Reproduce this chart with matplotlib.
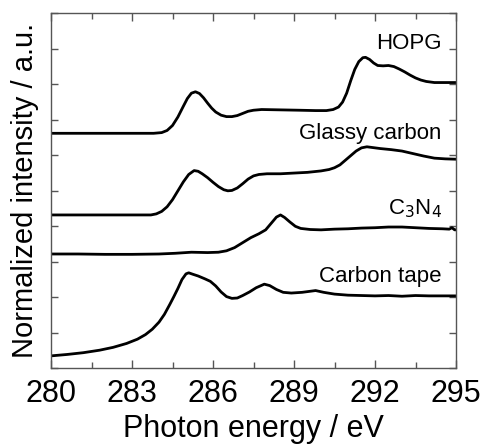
import numpy as np
import matplotlib.pyplot as plt
from matplotlib.ticker import MultipleLocator, NullFormatter

plt.rcParams['font.family'] = ['Liberation Sans', 'DejaVu Sans']

# spectra (photon energy / eV, offset intensity)
hopg_x = [280, 283.8, 284.1, 284.3, 284.5, 284.7, 284.9, 285.05, 285.2, 285.35, 285.5, 285.65,
          285.8, 285.95, 286.1, 286.3, 286.5, 286.7, 286.9, 287.1, 287.3, 287.5, 287.8, 288.5,
          289.2, 289.8, 290.2, 290.45, 290.65, 290.8, 290.95, 291.1, 291.25, 291.4, 291.55, 291.65,
          291.8, 291.95, 292.1, 292.3, 292.5, 292.7, 292.9, 293.1, 293.3, 293.5, 293.7, 293.9,
          294.2, 295]
hopg_y = [6.62, 6.62, 6.64, 6.7, 6.84, 7.08, 7.38, 7.6, 7.75, 7.79, 7.74, 7.62,
          7.47, 7.33, 7.22, 7.13, 7.09, 7.09, 7.12, 7.18, 7.24, 7.27, 7.29, 7.28,
          7.27, 7.26, 7.26, 7.29, 7.36, 7.5, 7.75, 8.1, 8.42, 8.64, 8.75, 8.76,
          8.7, 8.6, 8.53, 8.52, 8.53, 8.5, 8.43, 8.35, 8.26, 8.18, 8.12, 8.08,
          8.05, 8.05]

glassy_x = [280, 283.7, 283.9, 284.1, 284.3, 284.5, 284.7, 284.9, 285.1, 285.3, 285.45, 285.6,
            285.8, 286.0, 286.2, 286.4, 286.55, 286.7, 286.9, 287.1, 287.3, 287.5, 287.7, 288.0,
            288.5, 289.0, 289.5, 290.0, 290.3, 290.5, 290.7, 290.9, 291.1, 291.3, 291.5, 291.7,
            291.9, 292.2, 292.6, 293.0, 293.4, 293.8, 294.2, 294.6, 295]
glassy_y = [4.32, 4.32, 4.35, 4.42, 4.55, 4.75, 5.0, 5.25, 5.46, 5.57, 5.55, 5.48,
            5.37, 5.24, 5.12, 5.03, 5.0, 5.01, 5.08, 5.2, 5.33, 5.42, 5.46, 5.48,
            5.48, 5.5, 5.52, 5.56, 5.6, 5.65, 5.73, 5.86, 5.99, 6.12, 6.21, 6.24,
            6.22, 6.19, 6.16, 6.12, 6.05, 5.98, 5.92, 5.9, 5.89]

c3n4_x = [280, 281, 282, 283, 284, 284.6, 285.2, 285.8, 286.2, 286.5, 286.8, 287.1,
          287.4, 287.7, 287.95, 288.15, 288.35, 288.5, 288.65, 288.85, 289.05, 289.25, 289.6, 290,
          290.5, 291, 291.5, 292, 292.5, 293, 293.5, 294, 294.5, 294.75, 294.85, 294.95, 295]
c3n4_y = [3.22, 3.22, 3.21, 3.21, 3.22, 3.24, 3.27, 3.26, 3.27, 3.31, 3.4, 3.54,
          3.68, 3.79, 3.9, 4.08, 4.26, 4.32, 4.25, 4.12, 4.0, 3.94, 3.91, 3.9,
          3.92, 3.93, 3.95, 3.96, 3.98, 3.98, 3.96, 3.94, 3.93, 3.92, 3.96, 3.9, 3.9]

tape_x = [280, 280.6, 281.2, 281.8, 282.3, 282.8, 283.2, 283.5, 283.75, 284.0, 284.2, 284.4,
          284.55, 284.7, 284.85, 285.0, 285.1, 285.25, 285.45, 285.7, 285.9, 286.1, 286.3, 286.5,
          286.7, 286.9, 287.1, 287.35, 287.6, 287.9, 288.1, 288.35, 288.6, 288.9, 289.3, 289.8,
          290.1, 290.5, 291, 291.5, 292, 292.5, 293, 293.5, 294, 295]
tape_y = [0.35, 0.39, 0.44, 0.51, 0.59, 0.7, 0.82, 0.95, 1.1, 1.3, 1.52, 1.8,
          2.02, 2.25, 2.5, 2.66, 2.69, 2.65, 2.6, 2.52, 2.45, 2.32, 2.15, 2.02,
          1.97, 1.98, 2.05, 2.15, 2.27, 2.37, 2.33, 2.22, 2.14, 2.12, 2.14, 2.19,
          2.14, 2.09, 2.06, 2.05, 2.04, 2.05, 2.03, 2.05, 2.04, 2.04]

labels = ["HOPG", "Glassy carbon", "C$_3$N$_4$", "Carbon tape"]
label_y = [9.15, 6.62, 4.5, 2.58]

x_major = [280, 283, 286, 289, 292, 295]

fig = plt.figure(figsize=(4.83, 4.44), dpi=100)
ax = fig.add_axes([0.1056, 0.1705, 0.8385, 0.7995])

for xs, ys in [(hopg_x, hopg_y), (glassy_x, glassy_y), (c3n4_x, c3n4_y), (tape_x, tape_y)]:
    ax.plot(xs, ys, color="black", linewidth=2.0, solid_joinstyle="round")

for lab, ly in zip(labels, label_y):
    ax.text(294.47, ly, lab, ha="right", va="center", fontsize=16)

ax.set_xlim(280, 295)
ax.set_ylim(0, 10)
ax.set_xticks(x_major)
ax.set_xticks([281.5, 284.5, 287.5, 290.5, 293.5], minor=True)
ax.yaxis.set_major_locator(MultipleLocator(1))
ax.yaxis.set_major_formatter(NullFormatter())
ax.tick_params(which="both", direction="in", top=True, right=True, color="#555555")
ax.tick_params(which="major", length=6, width=1, labelsize=22, pad=8)
ax.tick_params(which="minor", length=4, width=1)
ax.tick_params(axis="y", length=5)
for sp in ax.spines.values():
    sp.set_color("#555555")
    sp.set_linewidth(1.0)

ax.set_xlabel("Photon energy / eV", fontsize=22, labelpad=3)
ax.set_ylabel("Normalized intensity / a.u.", fontsize=21, labelpad=1)

fig.savefig("out.png", dpi=100)
